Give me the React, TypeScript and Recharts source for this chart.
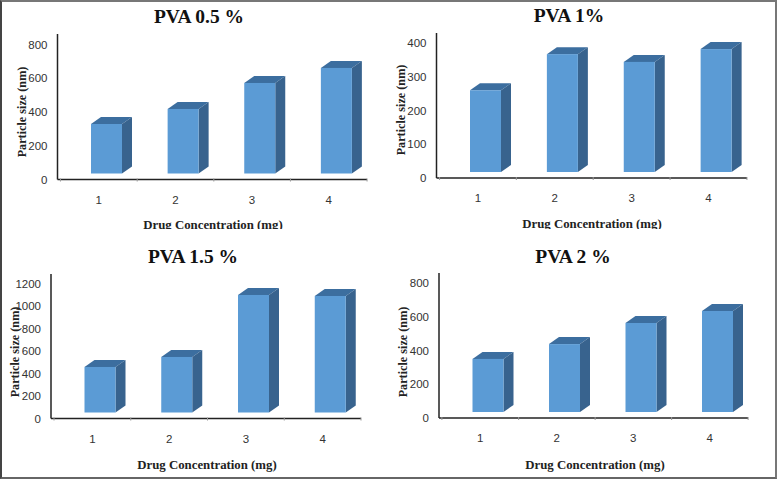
import React from "react";
import { BarChart, Bar, XAxis, YAxis } from "recharts";

const categories = ["1", "2", "3", "4"];
const pva05 = [329, 418, 572, 661];
const pva1 = [260, 367, 344, 382];
const pva15 = [458, 547, 1098, 1089];
const pva2 = [350, 438, 563, 634];
const ticks800 = [0, 200, 400, 600, 800];
const ticks400 = [0, 100, 200, 300, 400];
const ticks1200 = [0, 200, 400, 600, 800, 1000, 1200];

const SERIF = "'Liberation Serif', serif";
const SANS = "'Liberation Sans', sans-serif";
const FRONT = "#5B9BD5";
const SIDE = "#38638E";
const TOP = "#3C6E9F";
const DX = 7.5;
const BASE_LIFT = 6;
const DEPTH_X = 10;
const DEPTH_Y = 7;
const BAND = 76.75;

const Bar3D = (props: any) => {
  const { x, y, width, height } = props;
  const l = x + DX;
  const r = l + width;
  const b = y + height - BASE_LIFT;
  return (
    <g>
      <polygon points={`${l},${y} ${l + DEPTH_X},${y - DEPTH_Y} ${r + DEPTH_X},${y - DEPTH_Y} ${r},${y}`} fill={TOP} />
      <polygon points={`${r},${y} ${r + DEPTH_X},${y - DEPTH_Y} ${r + DEPTH_X},${b - DEPTH_Y} ${r},${b}`} fill={SIDE} />
      <rect x={l} y={y} width={width} height={b - y} fill={FRONT} />
    </g>
  );
};

const XTick = (props: any) => {
  const { x, y, payload } = props;
  return (
    <g>
      <line x1={x + BAND / 2} x2={x + BAND / 2} y1={y - 13} y2={y - 10} stroke="#999" strokeWidth={1} />
      {payload.index === 0 && <line x1={x - BAND / 2} x2={x - BAND / 2} y1={y - 13} y2={y - 10} stroke="#999" strokeWidth={1} />}
      <text x={x} y={y + 12} textAnchor="middle" fontFamily={SANS} fontSize={11.5} fill="#333">
        {payload.value}
      </text>
    </g>
  );
};

type PanelProps = {
  title: string;
  values: number[];
  ticks: number[];
  pxPerUnit: number;
  left: number;
  top: number;
  axisX: number;
  axisTop: number;
  axisBottom: number;
  axisRight: number;
  height: number;
  titleX: number;
  titleY: number;
  yLabelX: number;
  yLabelY: number;
  xLabelX: number;
  xLabelY: number;
};

const Panel = (p: PanelProps) => {
  const W = 385;
  const data = categories.map((c, i) => ({ c, v: p.values[i] }));
  const yAxisW = 40;
  const plotH = p.axisBottom - p.axisTop;
  return (
    <div style={{ position: "absolute", left: p.left, top: p.top, width: W, height: p.height }}>
      <div
        style={{
          position: "absolute",
          left: p.titleX - 100,
          width: 200,
          top: p.titleY - 11,
          height: 22,
          lineHeight: "22px",
          textAlign: "center",
          fontFamily: SERIF,
          fontWeight: 700,
          fontSize: 19.5,
          color: "#111",
        }}
      >
        {p.title}
      </div>
      <BarChart
        width={W}
        height={p.height}
        data={data}
        barSize={31}
        margin={{ left: p.axisX - yAxisW, top: p.axisTop, right: W - p.axisRight, bottom: 0 }}
        style={{ position: "absolute", left: 0, top: 0 }}
      >
        <XAxis
          dataKey="c"
          height={p.height - p.axisBottom}
          padding={{ left: 3, right: 0 }}
          tickLine={false}
          axisLine={{ stroke: "#222", strokeWidth: 1.5 }}
          tick={<XTick />}
          tickMargin={6}
          interval={0}
          label={{
            content: () => (
              <text x={p.xLabelX} y={p.xLabelY} textAnchor="middle" fontFamily={SERIF} fontWeight={700} fontSize={12.8} fill="#222">
                Drug Concentration (mg)
              </text>
            ),
          }}
        />
        <YAxis
          width={yAxisW}
          domain={[0, plotH / p.pxPerUnit]}
          ticks={p.ticks}
          interval={0}
          tickLine={false}
          tickMargin={4}
          axisLine={{ stroke: "#222", strokeWidth: 1.5 }}
          tick={{ fontFamily: SANS, fontSize: 11.5, fill: "#333" }}
          label={{
            content: () => (
              <text
                x={p.yLabelX}
                y={p.yLabelY}
                textAnchor="middle"
                transform={`rotate(-90 ${p.yLabelX} ${p.yLabelY})`}
                fontFamily={SERIF}
                fontWeight={700}
                fontSize={12.2}
                fill="#222"
              >
                Particle size (nm)
              </text>
            ),
          }}
        />
        <Bar dataKey="v" isAnimationActive={false} shape={<Bar3D />} />
      </BarChart>
    </div>
  );
};

export default function App() {
  return (
    <div style={{ position: "absolute", left: 0, top: 0, width: 777, height: 481, background: "#fff", overflow: "hidden" }}>
      <Panel title="PVA 0.5 %" values={pva05} ticks={ticks800} pxPerUnit={135 / 800} left={0} top={0}
        axisX={57.5} axisTop={34} axisBottom={179.5} axisRight={367} height={229}
        titleX={199} titleY={17} yLabelX={26} yLabelY={112} xLabelX={213} xLabelY={229} />
      <Panel title="PVA 1%" values={pva1} ticks={ticks400} pxPerUnit={135 / 400} left={390} top={0}
        axisX={46.5} axisTop={33} axisBottom={178} axisRight={357} height={229}
        titleX={179} titleY={16} yLabelX={15} yLabelY={110} xLabelX={202} xLabelY={228} />
      <Panel title="PVA 1.5 %" values={pva15} ticks={ticks1200} pxPerUnit={135 / 1200} left={0} top={240}
        axisX={51} axisTop={34} axisBottom={178.5} axisRight={361} height={238}
        titleX={193} titleY={17} yLabelX={19} yLabelY={112} xLabelX={207} xLabelY={229} />
      <Panel title="PVA 2 %" values={pva2} ticks={ticks800} pxPerUnit={135 / 800} left={390} top={240}
        axisX={49} axisTop={33} axisBottom={178} axisRight={358} height={238}
        titleX={183} titleY={17} yLabelX={17} yLabelY={112} xLabelX={205} xLabelY={229} />
      <div style={{ position: "absolute", left: 0, top: 0, width: 777, height: 479, boxSizing: "border-box", borderTop: "2px solid #777", borderLeft: "2px solid #444", borderRight: "2px solid #777", borderBottom: "2px solid #666", pointerEvents: "none" }} />
    </div>
  );
}
